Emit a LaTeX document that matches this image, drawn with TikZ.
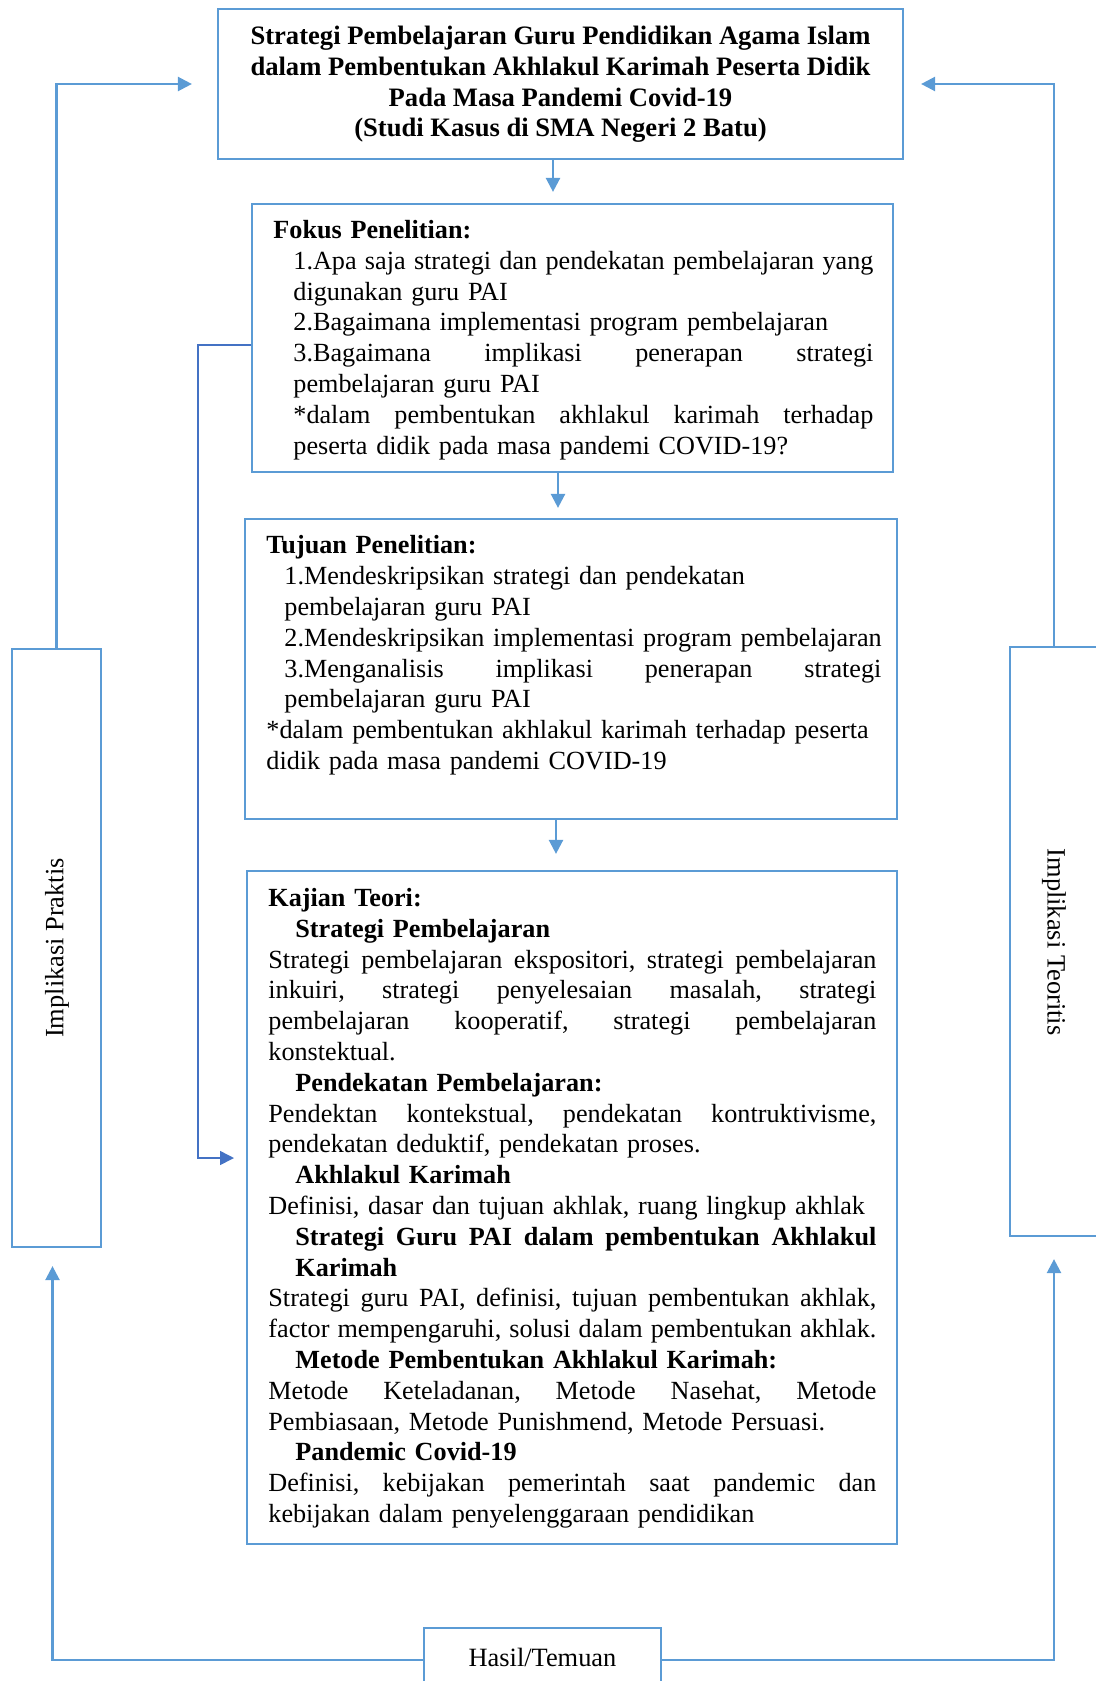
\documentclass[tikz,border=0pt]{standalone}
\usepackage{fontspec}
\setmainfont{Liberation Serif}
\usepackage{tikz}
\usetikzlibrary{arrows.meta, positioning, calc}
\definecolor{boxline}{RGB}{91, 155, 213}
\definecolor{linkline}{RGB}{68, 114, 196}
\tikzset{
  box/.style={draw=boxline, line width=1.1pt, inner sep=0pt},
  body/.style={anchor=north west, inner sep=0pt, align=left, font=\fontsize{13.1}{15.4}\selectfont},
  flow/.style={-{Triangle[width=7pt, length=7pt]}, boxline, line width=1.2pt},
  link/.style={-{Triangle[width=7pt, length=7pt]}, linkline, line width=0.8pt}
}

\begin{document}
\begin{tikzpicture}[x=0.5pt, y=-0.5pt]
        \clip (0,0) rectangle (1096,1681);

        % Title
        \node[box, minimum width=342.5pt, minimum height=75pt] (title) at (560.5, 84) {};
        \node[body, anchor=north, align=center, font=\fontsize{13.3}{15.4}\selectfont\bfseries] (titletext) at (560.5, 22.5) {\strut Strategi Pembelajaran Guru Pendidikan Agama Islam\\ dalam Pembentukan Akhlakul Karimah Peserta Didik\\ Pada Masa Pandemi Covid-19\\ (Studi Kasus di SMA Negeri 2 Batu)};

        % Fokus Penelitian
        \node[box, minimum width=320.5pt, minimum height=134pt] (fokus) at (572.5, 338) {};
        \node[body, text width=300pt] (fokustext) at (273, 216.5) {\strut\textbf{Fokus Penelitian:}\\
          \hspace*{10pt}1.Apa\hfill saja\hfill strategi\hfill dan\hfill pendekatan\hfill pembelajaran\hfill yang\\
          \hspace*{10pt}digunakan guru PAI\\
          \hspace*{10pt}2.Bagaimana implementasi program pembelajaran\\
          \hspace*{10pt}3.Bagaimana\hfill implikasi\hfill penerapan\hfill strategi\\
          \hspace*{10pt}pembelajaran guru PAI\\
          \hspace*{10pt}*dalam\hfill pembentukan\hfill akhlakul\hfill karimah\hfill terhadap\\
          \hspace*{10pt}peserta didik pada masa pandemi COVID-19?};

        % Tujuan Penelitian
        \node[box, minimum width=326pt, minimum height=150pt] (tujuan) at (571, 669) {};
        \node[body, text width=307.5pt] (tujuantext) at (266, 532) {\strut\textbf{Tujuan Penelitian:}\\
          \hspace*{9pt}1.Mendeskripsikan strategi dan pendekatan\\
          \hspace*{9pt}pembelajaran guru PAI\\
          \hspace*{9pt}\mbox{2.Mendeskripsikan implementasi program pembelajaran}\\
          \hspace*{9pt}3.Menganalisis\hfill implikasi\hfill penerapan\hfill strategi\\
          \hspace*{9pt}pembelajaran guru PAI\\
          {}*dalam pembentukan akhlakul karimah terhadap peserta\\
          didik pada masa pandemi COVID-19};

        % Kajian Teori
        \node[box, minimum width=325pt, minimum height=336.5pt] (kajian) at (572, 1207.5) {};
        \node[body, text width=304pt] (kajiantext) at (268, 884.5) {\strut\textbf{Kajian Teori:}\\
          \hspace*{13.5pt}\textbf{Strategi Pembelajaran}\\
          Strategi\hfill pembelajaran\hfill ekspositori,\hfill strategi\hfill pembelajaran\\
          inkuiri,\hfill strategi\hfill penyelesaian\hfill masalah,\hfill strategi\\
          pembelajaran\hfill kooperatif,\hfill strategi\hfill pembelajaran\\
          konstektual.\\
          \hspace*{13.5pt}\textbf{Pendekatan Pembelajaran:}\\
          Pendektan\hfill kontekstual,\hfill pendekatan\hfill kontruktivisme,\\
          pendekatan deduktif, pendekatan proses.\\
          \hspace*{13.5pt}\textbf{Akhlakul Karimah}\\
          Definisi, dasar dan tujuan akhlak, ruang lingkup akhlak\\
          \hspace*{13.5pt}\textbf{Strategi\hfill Guru\hfill PAI\hfill dalam\hfill pembentukan\hfill Akhlakul}\\
          \hspace*{13.5pt}\textbf{Karimah}\\
          Strategi\hfill guru\hfill PAI,\hfill definisi,\hfill tujuan\hfill pembentukan\hfill akhlak,\\
          factor\hfill mempengaruhi,\hfill solusi\hfill dalam\hfill pembentukan\hfill akhlak.\\
          \hspace*{13.5pt}\textbf{Metode Pembentukan Akhlakul Karimah:}\\
          Metode\hfill Keteladanan,\hfill Metode\hfill Nasehat,\hfill Metode\\
          Pembiasaan, Metode Punishmend, Metode Persuasi.\\
          \hspace*{13.5pt}\textbf{Pandemic Covid-19}\\
          Definisi,\hfill kebijakan\hfill pemerintah\hfill saat\hfill pandemic\hfill dan\\
          kebijakan dalam penyelenggaraan pendidikan};

        % Implikasi boxes
        \node[box, minimum width=44.5pt, minimum height=299pt] (praktis) at (56.5, 948) {};
        \node[rotate=90, font=\fontsize{13.2}{15.4}\selectfont] (praktistext) at (57, 948) {Implikasi Praktis};
        \node[box, minimum width=44pt, minimum height=294.5pt] (teoritis) at (1054, 941.5) {};
        \node[rotate=-90, font=\fontsize{13.2}{15.4}\selectfont] (teoritistext) at (1054, 942) {Implikasi Teoritis};

        % Hasil
        \node[box, minimum width=118.5pt, minimum height=32pt] (hasil) at (542.5, 1660) {};
        \node[font=\fontsize{13.2}{15.4}\selectfont] (hasiltext) at (542.5, 1657) {Hasil/Temuan};

        % Main flow
        \draw[flow, shorten >=5.5pt] ([xshift=-3.75pt]title.south) -- ([xshift=-3.75pt]title.south |- fokus.north);
        \draw[flow, shorten >=5pt] ([xshift=-7.25pt]fokus.south) -- ([xshift=-7.25pt]fokus.south |- tujuan.north);
        \draw[flow, shorten >=8pt] ([xshift=-7.5pt]tujuan.south) -- ([xshift=-7.5pt]tujuan.south |- kajian.north);

        % Fokus to Kajian
        \coordinate (kajianin) at (247, 1158);
        \draw[link, shorten >=6.5pt] ([yshift=-3.5pt]fokus.west) -- ++(-53, 0) |- (kajianin);

        % Feedback loops
        \draw[flow, shorten >=9pt] (hasil.west) -| ([xshift=-2pt]praktis.south);
        \draw[flow, shorten >=12.5pt] (praktis.north) |- (title.west);
        \draw[flow, shorten >=11pt] (hasil.east) -| (teoritis.south);
        \draw[flow, shorten >=8.5pt] (teoritis.north) |- (title.east);
    \end{tikzpicture}
\end{document}
